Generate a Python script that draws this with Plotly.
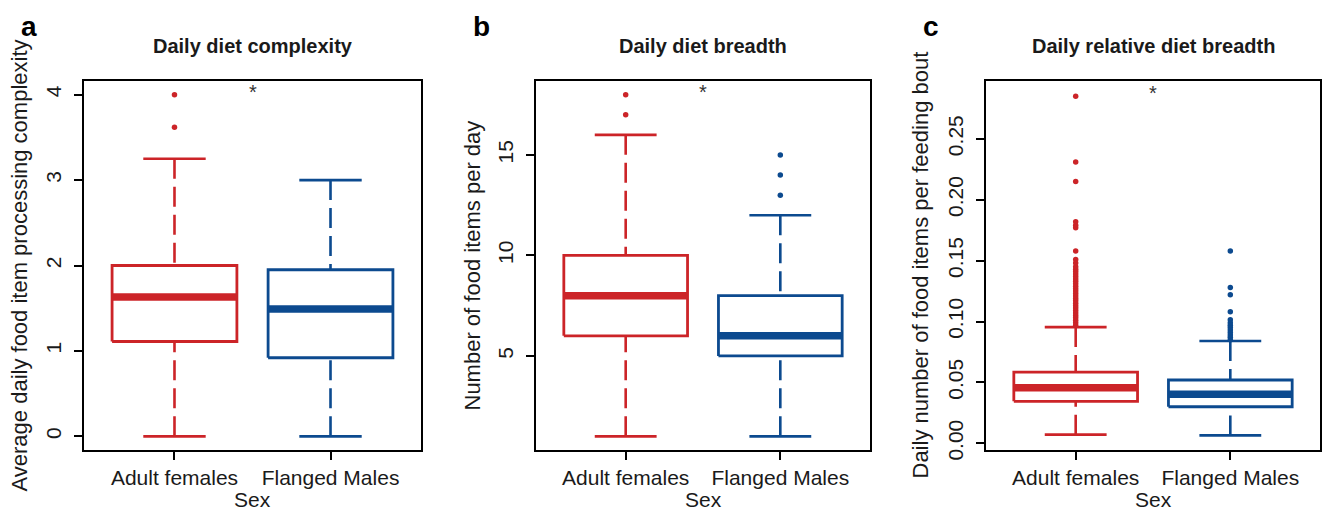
import plotly.graph_objects as go

# ---------------- data ----------------
categories = ["Adult females", "Flanged Males"]

# panel a: daily diet complexity
a_low = [0.0, 0.0]
a_q1 = [1.11, 0.92]
a_med = [1.63, 1.49]
a_q3 = [2.0, 1.95]
a_high = [3.25, 3.0]
a_out_f = [3.62, 4.0]
a_out_m = []

# panel b: daily diet breadth
b_low = [1, 1]
b_q1 = [6, 5]
b_med = [8, 6]
b_q3 = [10, 8]
b_high = [16, 12]
b_out_f = [17, 18]
b_out_m = [13, 14, 15]

# panel c: daily relative diet breadth
c_low = [0.0071, 0.0065]
c_q1 = [0.0345, 0.030]
c_med = [0.0457, 0.0402]
c_q3 = [0.0584, 0.052]
c_high = [0.0954, 0.084]
c_out_f = [0.097, 0.099, 0.101, 0.103, 0.105, 0.107, 0.109, 0.111, 0.113, 0.115,
           0.117, 0.119, 0.121, 0.123, 0.125, 0.127, 0.129, 0.131, 0.133, 0.135,
           0.137, 0.139, 0.141, 0.143, 0.145, 0.148, 0.151, 0.158, 0.177, 0.179,
           0.182, 0.215, 0.231, 0.285]
c_out_m = [0.085, 0.087, 0.089, 0.091, 0.093, 0.095, 0.097, 0.099, 0.1014, 0.108,
           0.122, 0.128, 0.158]

panel_titles = ["Daily diet complexity", "Daily diet breadth", "Daily relative diet breadth"]
panel_letters = ["a", "b", "c"]
y_titles = ["Average daily food item processing complexity",
            "Number of food items per day",
            "Daily number of food items per feeding bout"]
x_title = "Sex"
star_y = [4.035, 18.13, 0.288]

y_ticks_a = [0, 1, 2, 3, 4]
y_ticks_b = [5, 10, 15]
y_ticks_c = [0.0, 0.05, 0.10, 0.15, 0.20, 0.25]

# ---------------- style ----------------
W, H = 1322, 513
RED = "#CC2428"
BLUE = "#0C4A8F"
colors = [RED, BLUE]
FONT = "Arial, Liberation Sans, sans-serif"
TXT = "#1a1a1a"
BOX_HALF = 0.4
CAP_HALF = 0.2

x_dom_px = [(84, 421), (536, 870), (986, 1320)]
y_dom_px = (81, 450)
y_ranges = [[-0.16, 4.16], [0.32, 18.68], [-0.0055, 0.2975]]
y_tickvals = [y_ticks_a, y_ticks_b, y_ticks_c]
y_tickfmt = ["d", "d", ".2f"]
stats = [
    (a_low, a_q1, a_med, a_q3, a_high, [a_out_f, a_out_m]),
    (b_low, b_q1, b_med, b_q3, b_high, [b_out_f, b_out_m]),
    (c_low, c_q1, c_med, c_q3, c_high, [c_out_f, c_out_m]),
]

fig = go.Figure()
layout = dict(
    width=W, height=H, autosize=False, margin=dict(l=0, r=0, t=0, b=0, pad=0),
    paper_bgcolor="white", plot_bgcolor="white", showlegend=False,
    font=dict(family=FONT, color=TXT),
)
annotations = []


def px2x(p):
    return p / W


def px2y(p):
    return (H - p) / H


for k in range(3):
    xa = "x" if k == 0 else f"x{k + 1}"
    ya = "y" if k == 0 else f"y{k + 1}"
    low, q1, med, q3, high, outs = stats[k]
    for i, col in enumerate(colors):
        xc = i + 1
        # whiskers (dashed), drawn from cap toward box
        fig.add_trace(go.Scatter(
            x=[xc, xc, None, xc, xc], y=[low[i], q1[i], None, high[i], q3[i]],
            mode="lines", line=dict(color=col, width=2.6, dash="20px,8px"),
            xaxis=xa, yaxis=ya, hoverinfo="skip"))
        # caps
        fig.add_trace(go.Scatter(
            x=[xc - CAP_HALF, xc + CAP_HALF, None, xc - CAP_HALF, xc + CAP_HALF],
            y=[low[i], low[i], None, high[i], high[i]],
            mode="lines", line=dict(color=col, width=2.6),
            xaxis=xa, yaxis=ya, hoverinfo="skip"))
        # box
        fig.add_trace(go.Scatter(
            x=[xc - BOX_HALF, xc + BOX_HALF, xc + BOX_HALF, xc - BOX_HALF, xc - BOX_HALF],
            y=[q1[i], q1[i], q3[i], q3[i], q1[i]],
            mode="lines", line=dict(color=col, width=2.8),
            fill="toself", fillcolor="white",
            xaxis=xa, yaxis=ya, hoverinfo="skip"))
        # median
        fig.add_trace(go.Scatter(
            x=[xc - BOX_HALF, xc + BOX_HALF], y=[med[i], med[i]],
            mode="lines", line=dict(color=col, width=7.5),
            xaxis=xa, yaxis=ya, hoverinfo="skip"))
        # outliers
        if outs[i]:
            fig.add_trace(go.Scatter(
                x=[xc] * len(outs[i]), y=outs[i], mode="markers",
                marker=dict(color=col, size=5.5, line=dict(width=0)),
                xaxis=xa, yaxis=ya, hoverinfo="skip"))

    x0, x1 = x_dom_px[k]
    y0, y1 = y_dom_px
    xkey = "xaxis" if k == 0 else f"xaxis{k + 1}"
    ykey = "yaxis" if k == 0 else f"yaxis{k + 1}"
    layout[xkey] = dict(
        domain=[px2x(x0), px2x(x1)], range=[0.42, 2.58], anchor=ya,
        tickmode="array", tickvals=[1, 2], ticktext=categories,
        ticks="outside", ticklen=8, tickwidth=1.6, tickcolor="black",
        showline=True, linewidth=2.2, linecolor="black", mirror=True,
        showgrid=False, zeroline=False, fixedrange=True, automargin=False,
        tickfont=dict(family=FONT, size=21, color=TXT),
    )
    layout[ykey] = dict(
        domain=[px2y(y1), px2y(y0)], range=y_ranges[k], anchor=xa,
        tickmode="array", tickvals=y_tickvals[k], tickformat=y_tickfmt[k],
        tickangle=-90, ticklabelstandoff=5,
        ticks="outside", ticklen=8, tickwidth=1.6, tickcolor="black",
        showline=True, linewidth=2.2, linecolor="black", mirror=True,
        showgrid=False, zeroline=False, fixedrange=True, automargin=False,
        tickfont=dict(family=FONT, size=21, color=TXT),
    )
    cx = (x0 + x1) / 2
    # panel title
    annotations.append(dict(
        text=f"<b>{panel_titles[k]}</b>", x=px2x(cx), y=px2y(46),
        xref="paper", yref="paper", xanchor="center", yanchor="middle",
        showarrow=False, font=dict(family=FONT, size=20, color=TXT)))
    # y title
    ytitle_x = [19, 472, 920][k]
    annotations.append(dict(
        text=y_titles[k], x=px2x(ytitle_x), y=px2y((y0 + y1) / 2),
        xref="paper", yref="paper", xanchor="center", yanchor="middle",
        textangle=-90, showarrow=False,
        font=dict(family=FONT, size=22, color=TXT)))
    # x title (kept fully inside the picture)
    annotations.append(dict(
        text=x_title, x=px2x(cx), y=0.0,
        xref="paper", yref="paper", xanchor="center", yanchor="bottom",
        showarrow=False, font=dict(family=FONT, size=21, color=TXT)))
    # panel letter
    letter_x = [29, 481, 931][k]
    annotations.append(dict(
        text=f"<b>{panel_letters[k]}</b>", x=px2x(letter_x), y=px2y(26),
        xref="paper", yref="paper", xanchor="center", yanchor="middle",
        showarrow=False, font=dict(family=FONT, size=28, color="black")))
    # significance star
    annotations.append(dict(
        text="*", x=1.5, y=star_y[k], xref=xa, yref=ya,
        xanchor="center", yanchor="middle", showarrow=False,
        font=dict(family=FONT, size=20, color="#333333")))

layout["annotations"] = annotations
fig.update_layout(**layout)
fig.write_html("out.html",
               config={"displayModeBar": False, "responsive": False},
               post_script="document.body.style.margin='0';document.body.style.padding='0';")
